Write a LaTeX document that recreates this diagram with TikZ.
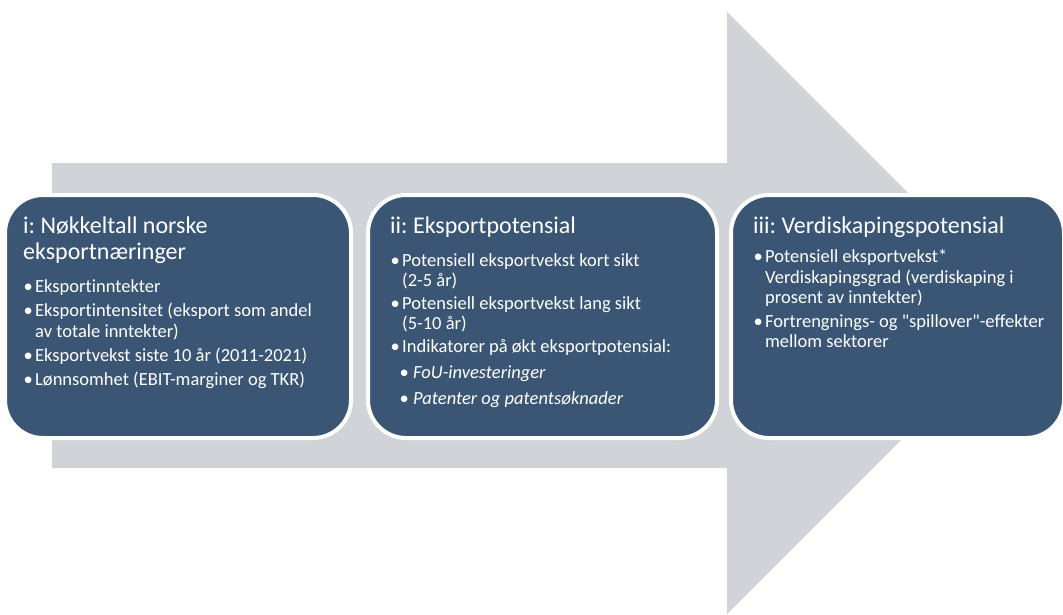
\documentclass[tikz,border=0pt]{standalone}
\usepackage{fontspec}
\setmainfont{Carlito}[Ligatures={TeX,NoCommon}]
\newfontfamily\plainq{Carlito}
\definecolor{boxfill}{HTML}{3B5675}
\definecolor{arrowgray}{HTML}{D0D3D8}
\newcommand\bitem[1]{\par\hangindent=12pt\hangafter=1\noindent\makebox[10pt][c]{•}\hspace*{2pt}#1}
\newcommand\bsub[1]{\par\vspace{3pt}\hangindent=23pt\hangafter=1\noindent\hspace*{9pt}\makebox[10pt][c]{•}\hspace*{4pt}\textit{#1}}
\newcommand\ttl[1]{{\fontsize{24}{26}\selectfont #1\par}}
\newcommand\bodyfont[1]{\fontsize{18.5}{#1}\selectfont\parskip=3pt}
\newcommand\sq{{\plainq\symbol{34}}}
\tikzset{
  stage/.style={fill=boxfill, draw=white, line width=4pt, rounded corners=38pt},
  stagetext/.style={anchor=base west, inner sep=0pt, text=white},
}
\begin{document}
\begin{tikzpicture}[x=1pt,y=-1pt]
\useasboundingbox (0,0) rectangle (1063,614);
% big arrow
\fill[arrowgray] (52,163) -- (727,163) -- (727,12) -- (1028,313) -- (727,614) -- (727,468) -- (52,468) -- cycle;
% boxes
\draw[stage] (5,195) rectangle (351,438);
\draw[stage] (368,195) rectangle (717,438);
\draw[stage] (731,195) rectangle (1064,438);
\node[stagetext] (t1) at (23,233) {\begin{minipage}[t]{320pt}\raggedright\frenchspacing
\ttl{i: Nøkkeltall norske\\eksportnæringer}
\bodyfont{21}\vspace{9pt}
\bitem{Eksportinntekter}
\bitem{Eksportintensitet (eksport som andel\newline av totale inntekter)}
\bitem{Eksportvekst siste 10 år (2011-2021)}
\bitem{Lønnsomhet (EBIT-marginer og TKR)}
\end{minipage}};
\node[stagetext] (t2) at (390,233) {\begin{minipage}[t]{320pt}\raggedright\frenchspacing
\ttl{ii: Eksportpotensial}
\bodyfont{20}\vspace{10pt}
\bitem{Potensiell eksportvekst kort sikt\newline (2-5 år)}
\bitem{Potensiell eksportvekst lang sikt\newline (5-10 år)}
\bitem{Indikatorer på økt eksportpotensial:}
\bsub{FoU-investeringer}
\bsub{Patenter og patentsøknader}
\end{minipage}};
\node[stagetext] (t3) at (753,233) {\begin{minipage}[t]{320pt}\raggedright\frenchspacing
\ttl{iii: Verdiskapingspotensial}
\bodyfont{20.5}\vspace{6pt}
\bitem{Potensiell eksportvekst*\newline Verdiskapingsgrad (verdiskaping i\newline prosent av inntekter)}
\bitem{Fortrengnings- og \sq spillover\sq-effekter\newline mellom sektorer}
\end{minipage}};
\end{tikzpicture}
\end{document}
